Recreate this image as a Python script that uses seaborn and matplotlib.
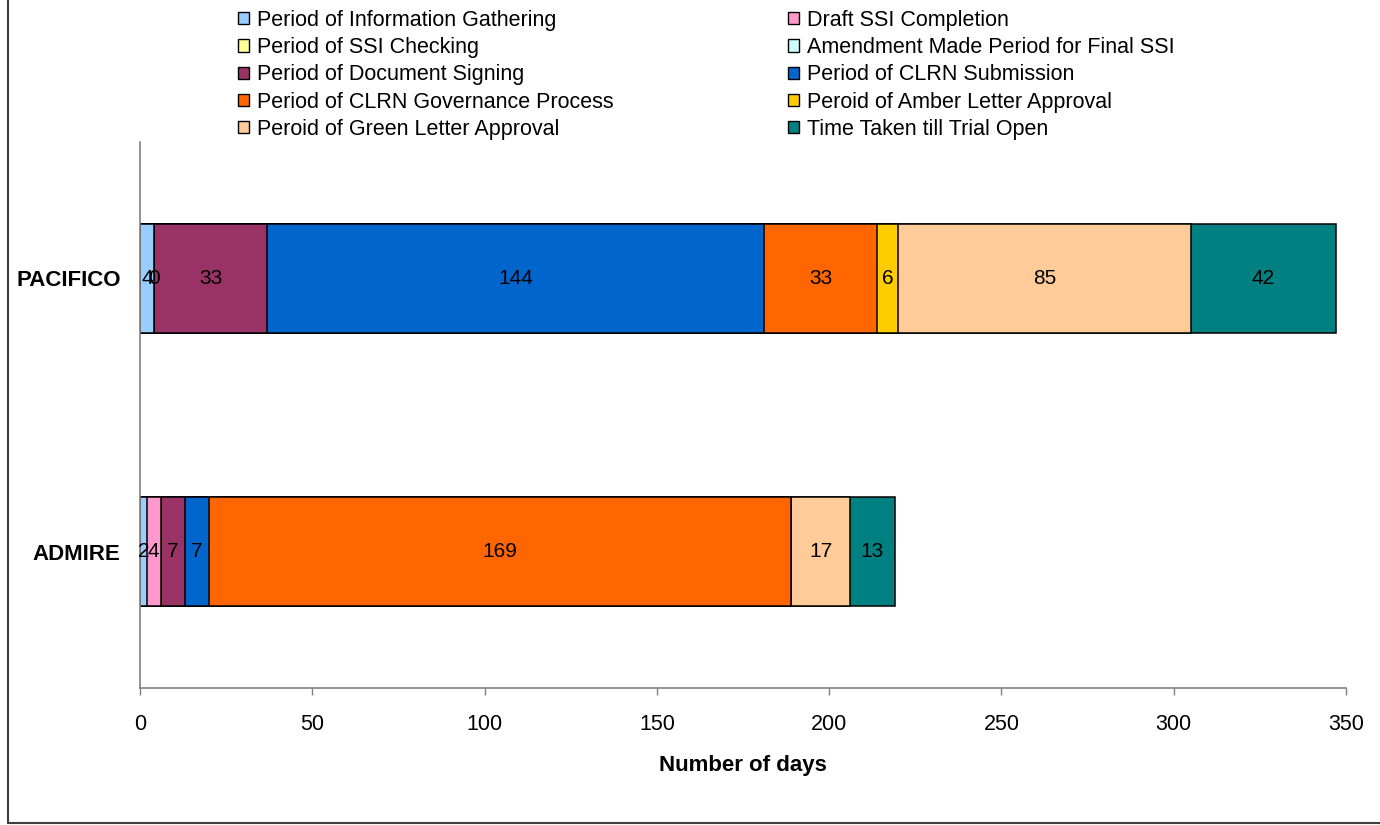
import numpy as np
import pandas as pd
import seaborn as sns
import matplotlib.pyplot as plt
from matplotlib.lines import Line2D
from matplotlib.patches import Patch

# data
studies = ['PACIFICO', 'ADMIRE']
phases = ['Period of Information Gathering', 'Draft SSI Completion',
          'Period of SSI Checking', 'Amendment Made Period for Final SSI',
          'Period of Document Signing', 'Period of CLRN Submission',
          'Period of CLRN Governance Process', 'Peroid of Amber Letter Approval',
          'Peroid of Green Letter Approval', 'Time Taken till Trial Open']
pacifico = [4, 0, np.nan, np.nan, 33, 144, 33, 6, 85, 42]
admire = [2, 4, np.nan, np.nan, 7, 7, 169, np.nan, 17, 13]
colours = ['#99CCFF', '#FF99CC', '#FFFF99', '#CCFFFF', '#993366',
           '#0066CC', '#FF6600', '#FFCC00', '#FFCC99', '#008080']

df = pd.DataFrame({'PACIFICO': pacifico, 'ADMIRE': admire}, index=phases)
cum = df.fillna(0).cumsum()

sns.set_style("white")
plt.rcParams['font.family'] = ['Liberation Sans', 'DejaVu Sans']
plt.rcParams['text.color'] = 'black'
plt.rcParams['axes.labelcolor'] = 'black'
plt.rcParams['xtick.labelcolor'] = 'black'
plt.rcParams['ytick.labelcolor'] = 'black'

fig = plt.figure(figsize=(13.8, 8.25), dpi=100)
ax = fig.add_axes([140 / 1380, 1 - 688 / 825, 1206 / 1380, 546 / 825])

# stacked bars: draw cumulative totals from the last phase back to the first
for i in range(len(phases) - 1, -1, -1):
    p = phases[i]
    d = pd.DataFrame({'study': studies, 'end': cum.loc[p, studies].values})
    sns.barplot(data=d, x='end', y='study', order=studies, orient='h',
                color=colours[i], saturation=1, width=0.4, errorbar=None,
                edgecolor='black', linewidth=1.1, ax=ax)

# segment labels
for j, s in enumerate(studies):
    start = 0
    for i, p in enumerate(phases):
        v = df.loc[p, s]
        if not np.isnan(v):
            ax.text(start + v / 2, j, f'{int(v)}', ha='center', va='center',
                    fontsize=15, color='black')
            start += v

ax.set_xlim(0, 350)
ax.set_ylim(1.5, -0.5)
ax.set_xticks(np.arange(0, 351, 50))
ax.set_xlabel('Number of days', fontsize=16, fontweight='bold', labelpad=14)
ax.set_ylabel('')
ax.set_yticks([0, 1])
ax.set_yticklabels(studies, fontsize=16, fontweight='bold')
ax.set_yticks([-0.5, 0.5, 1.5], minor=True)
ax.tick_params(axis='y', which='major', length=0, pad=14)
ax.tick_params(axis='y', which='minor', length=5, color='#808080', width=1, direction='out')
ax.tick_params(axis='x', length=5, color='#808080', width=1, direction='out', labelsize=15.5, pad=14)
ax.tick_params(left=True, bottom=True)
for side in ['top', 'right']:
    ax.spines[side].set_visible(False)
for side in ['left', 'bottom']:
    ax.spines[side].set_color('#808080')
    ax.spines[side].set_linewidth(1.2)

# legend in two columns, row-major like the original
handles = [Patch(facecolor=c, edgecolor='black', linewidth=1) for c in colours]
for k, x0 in enumerate([238 / 1380, 788 / 1380]):
    idx = list(range(k, len(phases), 2))
    fig.legend([handles[i] for i in idx], [phases[i] for i in idx],
               loc='upper left', bbox_to_anchor=(x0, 1 - 10 / 825),
               frameon=False, fontsize=15.5, ncol=1, borderpad=0,
               borderaxespad=0, labelspacing=0.29, handlelength=0.5,
               handleheight=0.5, handletextpad=0.4)

# chart-area border (left and bottom edges visible in the original)
fig.add_artist(Line2D([8 / 1380, 8 / 1380], [2 / 825, 1], color='#404040', linewidth=1.5))
fig.add_artist(Line2D([8 / 1380, 1], [2 / 825, 2 / 825], color='#404040', linewidth=1.5))

fig.savefig('out.png', dpi=100)
